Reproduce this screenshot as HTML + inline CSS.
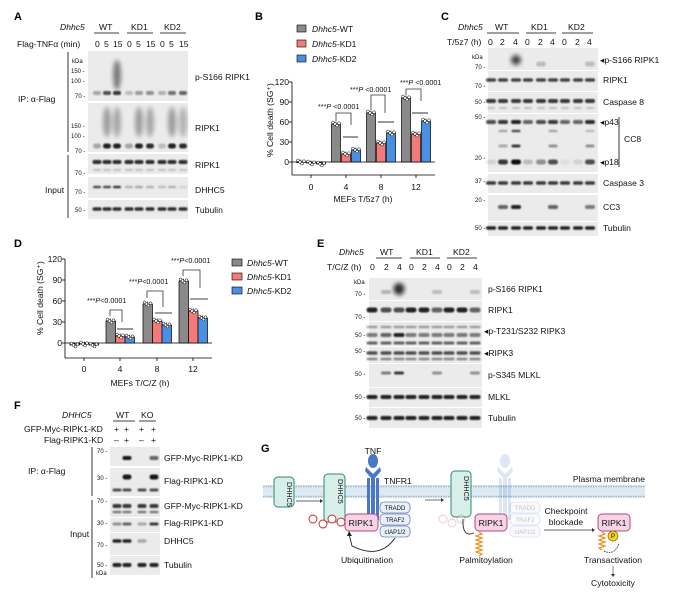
<!DOCTYPE html>
<html><head><meta charset="utf-8"><style>
html,body{margin:0;padding:0;background:#fff}
svg{display:block;font-family:"Liberation Sans",Arial,sans-serif}
.t{font-size:8.6px;fill:#111}
.s{font-size:7.2px;fill:#111}
.L{font-size:11px;font-weight:bold;fill:#000}
.k{font-size:6px;fill:#111}
</style></head><body>
<svg id="s" width="677" height="597" viewBox="0 0 677 597" xmlns="http://www.w3.org/2000/svg">
<defs><filter id="bl" x="-50%" y="-100%" width="200%" height="300%"><feGaussianBlur stdDeviation="0.9"/></filter>
<filter id="bl2" x="-50%" y="-50%" width="200%" height="200%"><feGaussianBlur stdDeviation="2"/></filter></defs>

<!-- ===== A ===== -->
<text class="L" x="14" y="20">A</text>
<text class="t" x="60" y="30" font-style="italic">Dhhc5</text>
<text class="t" x="99" y="30">WT</text><text class="t" x="131" y="30">KD1</text><text class="t" x="164" y="30">KD2</text>
<line x1="94" y1="33" x2="119" y2="33" stroke="#000" stroke-width=".8"/><line x1="127" y1="33" x2="153" y2="33" stroke="#000" stroke-width=".8"/><line x1="160" y1="33" x2="186" y2="33" stroke="#000" stroke-width=".8"/>
<text class="t" x="17" y="47">Flag-TNFα (min)</text>
<text class="t" x="95" y="47">0</text><text class="t" x="104" y="47">5</text><text class="t" x="113" y="47">15</text>
<text class="t" x="127" y="47">0</text><text class="t" x="136" y="47">5</text><text class="t" x="146" y="47">15</text>
<text class="t" x="160" y="47">0</text><text class="t" x="169" y="47">5</text><text class="t" x="179" y="47">15</text>
<line x1="68" y1="52" x2="68" y2="152" stroke="#000" stroke-width=".8"/><line x1="68" y1="155" x2="68" y2="218" stroke="#000" stroke-width=".8"/>
<text class="t" x="18" y="102">IP: α-Flag</text><text class="t" x="45" y="193">Input</text>
<text class="k" x="72" y="63">kDa</text><text class="k" x="71" y="73">150 -</text><text class="k" x="71" y="83">100 -</text><text class="k" x="75" y="98">70 -</text>
<text class="k" x="71" y="128">150 -</text><text class="k" x="71" y="138">100 -</text><text class="k" x="75" y="153">70 -</text>
<text class="k" x="75" y="175">70 -</text><text class="k" x="75" y="194">70 -</text><text class="k" x="75" y="212">50 -</text>
<text class="t" x="195" y="80">p-S166 RIPK1</text><text class="t" x="195" y="131">RIPK1</text><text class="t" x="195" y="168">RIPK1</text><text class="t" x="195" y="193">DHHC5</text><text class="t" x="195" y="213">Tubulin</text>

<!-- ===== B ===== -->
<text class="L" x="255" y="20">B</text>
<rect x="297" y="25" width="9" height="7" fill="#8a8a8a" stroke="#000" stroke-width=".6"/>
<rect x="297" y="40" width="9" height="7" fill="#f47a7a" stroke="#000" stroke-width=".6"/>
<rect x="297" y="55" width="9" height="7" fill="#4a90e2" stroke="#000" stroke-width=".6"/>
<text class="t" x="312" y="32"><tspan font-style="italic">Dhhc5</tspan>-WT</text>
<text class="t" x="312" y="47"><tspan font-style="italic">Dhhc5</tspan>-KD1</text>
<text class="t" x="312" y="62"><tspan font-style="italic">Dhhc5</tspan>-KD2</text>
<text class="t" transform="translate(273,157) rotate(-90)">% Cell death (SG⁺)</text>
<text class="t" x="289" y="85" text-anchor="end">120</text><text class="t" x="289" y="105" text-anchor="end">90</text><text class="t" x="289" y="125" text-anchor="end">60</text><text class="t" x="289" y="145" text-anchor="end">30</text><text class="t" x="289" y="165" text-anchor="end">0</text>
<text class="t" x="311" y="190" text-anchor="middle">0</text><text class="t" x="346" y="190" text-anchor="middle">4</text><text class="t" x="381" y="190" text-anchor="middle">8</text><text class="t" x="416" y="190" text-anchor="middle">12</text>
<text class="t" x="363" y="202" text-anchor="middle">MEFs T/5z7 (h)</text>
<text class="s" x="318" y="109">***<tspan font-style="italic">P</tspan> &lt;0.0001</text>
<text class="s" x="350" y="92">***<tspan font-style="italic">P</tspan> &lt;0.0001</text>
<text class="s" x="400" y="85">***<tspan font-style="italic">P</tspan> &lt;0.0001</text>

<!-- ===== C ===== -->
<text class="L" x="441" y="20">C</text>
<text class="t" x="458" y="30" font-style="italic">Dhhc5</text>
<text class="t" x="495" y="30">WT</text><text class="t" x="531" y="30">KD1</text><text class="t" x="568" y="30">KD2</text>
<line x1="487" y1="33" x2="519" y2="33" stroke="#000" stroke-width=".8"/><line x1="526" y1="33" x2="556" y2="33" stroke="#000" stroke-width=".8"/><line x1="562" y1="33" x2="593" y2="33" stroke="#000" stroke-width=".8"/>
<text class="t" x="447" y="45">T/5z7 (h)</text>
<text class="t" x="488" y="45">0</text><text class="t" x="500" y="45">2</text><text class="t" x="513" y="45">4</text><text class="t" x="525" y="45">0</text><text class="t" x="538" y="45">2</text><text class="t" x="550" y="45">4</text><text class="t" x="562" y="45">0</text><text class="t" x="575" y="45">2</text><text class="t" x="587" y="45">4</text>
<text class="k" x="472" y="59">kDa</text><text class="k" x="475" y="69">70 -</text><text class="k" x="475" y="88">70 -</text><text class="k" x="475" y="104">50 -</text><text class="k" x="475" y="119">50 -</text><text class="k" x="475" y="160">20 -</text><text class="k" x="475" y="183">37 -</text><text class="k" x="475" y="202">20 -</text><text class="k" x="475" y="230">50 -</text>
<text class="t" x="600" y="63">◂p-S166 RIPK1</text><text class="t" x="603" y="83">RIPK1</text><text class="t" x="603" y="105">Caspase 8</text><text class="t" x="600" y="125">◂p43</text><text class="t" x="624" y="142">CC8</text><text class="t" x="600" y="165">◂p18</text><text class="t" x="603" y="186">Caspase 3</text><text class="t" x="603" y="210">CC3</text><text class="t" x="603" y="231">Tubulin</text>
<line x1="619" y1="117" x2="619" y2="167" stroke="#000" stroke-width=".8"/>

<!-- ===== D ===== -->
<text class="L" x="14" y="247">D</text>
<text class="t" transform="translate(43,335) rotate(-90)">% Cell death (SG⁺)</text>
<text class="t" x="62" y="262" text-anchor="end">120</text><text class="t" x="62" y="283" text-anchor="end">90</text><text class="t" x="62" y="304" text-anchor="end">60</text><text class="t" x="62" y="325" text-anchor="end">30</text><text class="t" x="62" y="346" text-anchor="end">0</text>
<text class="t" x="84" y="372" text-anchor="middle">0</text><text class="t" x="120" y="372" text-anchor="middle">4</text><text class="t" x="157" y="372" text-anchor="middle">8</text><text class="t" x="193" y="372" text-anchor="middle">12</text>
<text class="t" x="140" y="386" text-anchor="middle">MEFs T/C/Z (h)</text>
<text class="s" x="87" y="303">***<tspan font-style="italic">P</tspan>&lt;0.0001</text>
<text class="s" x="129" y="284">***<tspan font-style="italic">P</tspan>&lt;0.0001</text>
<text class="s" x="171" y="263">***<tspan font-style="italic">P</tspan>&lt;0.0001</text>
<rect x="232" y="259" width="10" height="7" fill="#8a8a8a" stroke="#000" stroke-width=".6"/>
<rect x="232" y="273" width="10" height="7" fill="#f47a7a" stroke="#000" stroke-width=".6"/>
<rect x="232" y="287" width="10" height="7" fill="#4a90e2" stroke="#000" stroke-width=".6"/>
<text class="t" x="247" y="266"><tspan font-style="italic">Dhhc5</tspan>-WT</text>
<text class="t" x="247" y="280"><tspan font-style="italic">Dhhc5</tspan>-KD1</text>
<text class="t" x="247" y="294"><tspan font-style="italic">Dhhc5</tspan>-KD2</text>

<!-- ===== E ===== -->
<text class="L" x="317" y="247">E</text>
<text class="t" x="339" y="255" font-style="italic">Dhhc5</text>
<text class="t" x="380" y="255">WT</text><text class="t" x="416" y="255">KD1</text><text class="t" x="453" y="255">KD2</text>
<line x1="376" y1="258" x2="402" y2="258" stroke="#000" stroke-width=".8"/><line x1="410" y1="258" x2="440" y2="258" stroke="#000" stroke-width=".8"/><line x1="447" y1="258" x2="477" y2="258" stroke="#000" stroke-width=".8"/>
<text class="t" x="327" y="270">T/C/Z (h)</text>
<text class="t" x="370" y="270">0</text><text class="t" x="384" y="270">2</text><text class="t" x="397" y="270">4</text><text class="t" x="409" y="270">0</text><text class="t" x="422" y="270">2</text><text class="t" x="435" y="270">4</text><text class="t" x="447" y="270">0</text><text class="t" x="460" y="270">2</text><text class="t" x="473" y="270">4</text>
<text class="k" x="354" y="284">kDa</text><text class="k" x="355" y="296">70 -</text><text class="k" x="355" y="319">70 -</text><text class="k" x="355" y="337">50 -</text><text class="k" x="355" y="353">50 -</text><text class="k" x="355" y="376">50 -</text><text class="k" x="355" y="399">50 -</text><text class="k" x="355" y="420">50 -</text>
<text class="t" x="488" y="292">p-S166 RIPK1</text><text class="t" x="488" y="313">RIPK1</text><text class="t" x="484" y="334">◂p-T231/S232 RIPK3</text><text class="t" x="484" y="356">◂RIPK3</text><text class="t" x="488" y="378">p-S345 MLKL</text><text class="t" x="488" y="400">MLKL</text><text class="t" x="488" y="421">Tubulin</text>

<!-- ===== F ===== -->
<text class="L" x="14" y="409">F</text>
<text class="t" x="62" y="418" font-style="italic">DHHC5</text>
<text class="t" x="116" y="418">WT</text><text class="t" x="141" y="418">KO</text>
<line x1="113" y1="421" x2="135" y2="421" stroke="#000" stroke-width=".8"/><line x1="139" y1="421" x2="156" y2="421" stroke="#000" stroke-width=".8"/>
<text class="t" x="24" y="432">GFP-Myc-RIPK1-KD</text><text class="t" x="44" y="443">Flag-RIPK1-KD</text>
<text class="t" x="114" y="432">+</text><text class="t" x="124" y="432">+</text><text class="t" x="139" y="432">+</text><text class="t" x="151" y="432">+</text>
<text class="t" x="114" y="443">–</text><text class="t" x="124" y="443">+</text><text class="t" x="139" y="443">–</text><text class="t" x="151" y="443">+</text>
<line x1="92" y1="447" x2="92" y2="496" stroke="#000" stroke-width=".8"/><line x1="92" y1="500" x2="92" y2="578" stroke="#000" stroke-width=".8"/>
<text class="t" x="28" y="474">IP: α-Flag</text><text class="t" x="70" y="537">Input</text>
<text class="k" x="97" y="453">70 -</text><text class="k" x="97" y="480">30 -</text><text class="k" x="97" y="503">70 -</text><text class="k" x="97" y="525">30 -</text><text class="k" x="97" y="547">70 -</text><text class="k" x="97" y="567">50 -</text><text class="k" x="96" y="575">kDa</text>
<text class="t" x="164" y="461">GFP-Myc-RIPK1-KD</text><text class="t" x="164" y="484">Flag-RIPK1-KD</text><text class="t" x="164" y="509">GFP-Myc-RIPK1-KD</text><text class="t" x="164" y="526">Flag-RIPK1-KD</text><text class="t" x="164" y="544">DHHC5</text><text class="t" x="164" y="568">Tubulin</text>

<!-- ===== G ===== -->
<text class="L" x="261" y="452">G</text>
<rect x="263" y="485" width="382" height="13" fill="#dde9f3"/>
<line x1="263" y1="486.5" x2="645" y2="486.5" stroke="#9bb9d2" stroke-width="1.6" stroke-dasharray="1.5 1"/>
<line x1="263" y1="496.5" x2="645" y2="496.5" stroke="#9bb9d2" stroke-width="1.6" stroke-dasharray="1.5 1"/>
<text class="t" x="645" y="482" text-anchor="end">Plasma membrane</text>
<g id="rec1" fill="#4a78c2"><ellipse cx="373" cy="461" rx="5" ry="7"/><path d="M366 467 L373 474 L380 467 L381 471 L375 478 L375 520 L371 520 L371 478 L365 471Z"/><rect x="367" y="478" width="3" height="42"/><rect x="376" y="478" width="3" height="42"/></g>
<text class="t" x="373" y="454" text-anchor="middle">TNF</text><text class="t" x="384" y="484">TNFR1</text>
<g opacity=".18" fill="#4a78c2"><ellipse cx="505" cy="461" rx="5" ry="7"/><path d="M498 467 L505 474 L512 467 L513 471 L507 478 L507 520 L503 520 L503 478 L497 471Z"/><rect x="499" y="478" width="3" height="42"/><rect x="508" y="478" width="3" height="42"/></g>
<g fill="#d8eee8" stroke="#2e8a76" stroke-width="1">
<rect x="274" y="477" width="20" height="30" rx="4"/><rect x="324" y="474" width="21" height="48" rx="4"/><rect x="451" y="471" width="20" height="46" rx="4"/></g>
<text class="s" transform="translate(287,482) rotate(90)">DHHC5</text><text class="s" transform="translate(338,479) rotate(90)">DHHC5</text><text class="s" transform="translate(464,476) rotate(90)">DHHC5</text>
<line x1="296" y1="501" x2="320" y2="501" stroke="#333" stroke-width=".7"/><path d="M320 499 L323 501 L320 503Z" fill="#333"/>
<line x1="425" y1="500" x2="441" y2="500" stroke="#333" stroke-width=".7"/><path d="M441 498 L444 500 L441 502Z" fill="#333"/>
<g fill="#e8eefa" stroke="#6b82b8" stroke-width=".8"><rect x="380" y="502" width="30" height="11" rx="4"/><rect x="380" y="514" width="30" height="11" rx="4"/><rect x="380" y="526" width="30" height="11" rx="4"/></g>
<text class="k" x="395" y="510" text-anchor="middle">TRADD</text><text class="k" x="395" y="522" text-anchor="middle">TRAF2</text><text class="k" x="395" y="534" text-anchor="middle">cIAP1/2</text>
<g opacity=".25"><g fill="#e8eefa" stroke="#6b82b8" stroke-width=".8"><rect x="510" y="502" width="30" height="11" rx="4"/><rect x="510" y="514" width="30" height="11" rx="4"/><rect x="510" y="526" width="30" height="11" rx="4"/></g>
<text class="k" x="525" y="510" text-anchor="middle">TRADD</text><text class="k" x="525" y="522" text-anchor="middle">TRAF2</text><text class="k" x="525" y="534" text-anchor="middle">cIAP1/2</text></g>
<g fill="#f7d3e6" stroke="#b04a80" stroke-width="1"><rect x="345" y="514" width="33" height="17" rx="4"/><rect x="475" y="514" width="32" height="17" rx="4"/><rect x="598" y="514" width="32" height="17" rx="4"/></g>
<text class="t" x="361" y="526" text-anchor="middle">RIPK1</text><text class="t" x="491" y="526" text-anchor="middle">RIPK1</text><text class="t" x="614" y="526" text-anchor="middle">RIPK1</text>
<g fill="#fff" stroke="#d02020" stroke-width=".9"><circle cx="313" cy="519" r="4"/><circle cx="323" cy="524" r="4"/><circle cx="332" cy="519" r="4"/><circle cx="341" cy="522" r="4"/></g>
<g opacity=".25" fill="#fff" stroke="#d02020" stroke-width=".9"><circle cx="443" cy="519" r="4"/><circle cx="452" cy="523" r="4"/><circle cx="461" cy="519" r="4"/></g>
<path d="M395 538 Q380 560 352 546 L349 534" fill="none" stroke="#222" stroke-width=".9"/><path d="M347 536 L349 531 L352 536Z" fill="#222"/>
<path d="M463 519 Q462 538 474 533" fill="none" stroke="#222" stroke-width=".9"/>
<path d="M479 532 l3 2 l-6 2 l6 2 l-6 2 l6 2 l-6 2 l6 2 l-6 2 l6 2 l-6 2 l6 2 l-3 2" fill="none" stroke="#f09020" stroke-width="1.2"/>
<path d="M602 532 l3 2 l-6 2 l6 2 l-6 2 l6 2 l-6 2 l6 2 l-6 2 l3 2" fill="none" stroke="#f09020" stroke-width="1.2"/>
<circle cx="613" cy="536" r="5" fill="#f5d020" stroke="#886600" stroke-width=".7"/><text class="k" x="613" y="538" text-anchor="middle">P</text>
<path d="M604 551 Q615 556 619 543" fill="none" stroke="#222" stroke-width=".8" stroke-dasharray="1.5 1"/>
<text class="t" x="367" y="563" text-anchor="middle">Ubiquitination</text><text class="t" x="486" y="563" text-anchor="middle">Palmitoylation</text>
<text class="t" x="566" y="514" text-anchor="middle">Checkpoint</text><text class="t" x="566" y="525" text-anchor="middle">blockade</text>
<line x1="544" y1="530" x2="592" y2="530" stroke="#333" stroke-width=".7"/><path d="M592 528 L595 530 L592 532Z" fill="#333"/>
<text class="t" x="613" y="563" text-anchor="middle">Transactivation</text>
<line x1="613" y1="566" x2="613" y2="575" stroke="#333" stroke-width=".6"/><path d="M611 574 L613 577 L615 574Z" fill="#333"/>
<text class="t" x="613" y="586" text-anchor="middle">Cytotoxicity</text>
<g id="dyn"></g>
</svg>
<script>
var NS="http://www.w3.org/2000/svg",g=document.getElementById("dyn");
function el(n,a){var e=document.createElementNS(NS,n);for(var k in a)e.setAttribute(k,a[k]);g.appendChild(e);return e;}
function blot(x,y,w,h){el("rect",{x:x,y:y,width:w,height:h,fill:"#ebebeb"});}
function bands(lanes,y,ops,w,h,blur){lanes.forEach(function(c,i){var o=ops.length?ops[i]:ops;if(o>0)el("rect",{x:c-w/2,y:y-h/2,width:w,height:h,rx:h/2,fill:"#111",opacity:o,filter:"url(#"+(blur||"bl")+")"});});}
function line(x1,y1,x2,y2,w){el("line",{x1:x1,y1:y1,x2:x2,y2:y2,stroke:"#000","stroke-width":w||.8});}
function path(d){el("path",{d:d,fill:"none",stroke:"#333","stroke-width":.8});}
// A
var A=[97,107,117,129,139,150,162,172,183];
[[51,50],[103,49],[154,20],[177,21],[200,19]].forEach(function(r){blot(88,r[0],100,r[1]);});
bands(A,93,[.3,.7,.8,.2,.35,.4,.25,.55,.6],8,4);
bands([117],75,[.5],8,30,"bl2");
bands(A,146,[.3,.9,.9,.3,.9,.85,.2,.9,.85],8,5);
bands([107,117,139,150,172,183],122,[.35,.3,.35,.3,.35,.25],8,30,"bl2");
bands(A,162,.85,9,4);bands(A,170,.2,8,2);
bands(A,187,[.7,.7,.8,.25,.3,.25,.2,.25,.1],8,2.5);
bands(A,209,.85,9,3.5);
// C
var C=[491,503,516,528,541,553,565,578,590];
[[48,22],[71,20],[92,21],[114,58],[174,19],[195,26],[222,14]].forEach(function(r){blot(488,r[0],110,r[1]);});
bands([516],60,[.75],10,10,"bl2");bands([541,590],64,[.2,.2],10,5);
bands(C,80,.75,10,3.5);bands(C,101,.8,10,4);bands(C,108,.2,8,2);
bands(C,122,[.7,.8,.9,.6,.7,.8,.6,.6,.85],10,4);
bands(C,131,[0,.3,.7,0,0,.3,0,0,.2],9,2.5);bands(C,146,[0,.3,.8,0,0,.4,0,0,.4],9,3);
bands(C,162,[.1,.8,1,.2,.4,.7,.05,.1,.7],10,5);
bands(C,183,.8,10,3.5);bands(C,207,[0,.6,.9,0,0,.6,0,0,.5],10,4);bands(C,228,.9,10,3.5);
// E
var E=[372,386,399,411,424,437,449,462,475];
[[278,22],[301,20],[322,24],[347,16],[364,23],[388,19],[408,20]].forEach(function(r){blot(369,r[0],113,r[1]);});
bands([399],289,[.85],11,12,"bl2");bands(E,292,[0,.25,0,0,0,.2,0,0,.2],10,4);
bands(E,310,[.9,.7,.7,.9,.9,.6,.9,.9,.6],11,5);
bands(E,327,.35,11,2.5);bands(E,335,[.5,.6,.9,.5,.5,.5,.5,.5,.5],11,4);bands(E,343,.6,11,3);
bands(E,353,.7,11,3.5);bands(E,359,.45,11,2.5);
bands(E,373,[0,.5,.8,0,0,.4,0,0,.4],10,3);bands(E,397,.9,11,4);bands(E,418,.9,11,4);
// F
var F=[117,127,142,154];
[[447,19],[468,28],[498,19],[518,14],[533,22],[556,19]].forEach(function(r){blot(110,r[0],50,r[1]);});
bands(F,458,[0,.95,0,.6],9,4);bands(F,477,[0,.95,0,.95],9,5);bands(F,490,.7,9,3);
bands(F,506,.8,9,4);bands(F,512,.5,9,2.5);bands(F,524,[.4,.6,.3,.8],9,3);
bands(F,541,[.9,.9,.3,0],9,3.5);bands(F,565,.9,9,4);
// bar charts
var cols=["#8a8a8a","#f47a7a","#4a90e2"];
function chart(ax,x0,x1,yT,yB,base,axisY,centers,tops,bw,offs){
 line(ax,yT,ax,axisY);line(ax,axisY,x1,axisY);line(ax,base,x1,base);
 for(var i=0;i<5;i++){var yy=yT+(base-yT)*i/4;line(ax-3,yy,ax,yy);}
 centers.forEach(function(c,gI){line(c,axisY,c,axisY+3);
  for(var j=0;j<3;j++){var x=c+offs[j],t=tops[gI][j];
   var y=Math.min(t,base),h=Math.abs(base-t);
   el("rect",{x:x,y:y,width:bw,height:Math.max(h,.5),fill:cols[j],stroke:"#000","stroke-width":.7});
   line(x+bw/2,t-2.5,x+bw/2,t+2.5,.6);
   for(var d=0;d<4;d++)el("circle",{cx:x+1.5+d*2,cy:t+((d*37)%5-2)*.8,r:1.4,fill:"#fff",stroke:"#000","stroke-width":.5});
  }});
}
chart(292,292,435,82,162,162,175,[311,346,381,416],[[162,163,164],[124,154,150],[113,143,133],[98,134,121]],9,[-14.5,-4.5,5.5]);
chart(65,65,212,259,343,343,358,[84,120,157,193],[[345,344,345],[321,336,337],[304,321,325],[281,311,318]],9.5,[-14,-4.5,5]);
// brackets
path("M336 121 V113 H351 V125");line(343,137,358,137,.8);
path("M371 110 V95 H385 V113");line(378,122,394,122,.8);
path("M406 95 V89 H421 V101");line(412,113,428,113,.8);
path("M110 316 V310 H122 V322");line(117,329,133,329,.8);
path("M147 298 V291 H163 V307");line(155,313,172,313,.8);
path("M183 276 V270 H200 V288");line(190,299,208,299,.8);
</script>
</body></html>
